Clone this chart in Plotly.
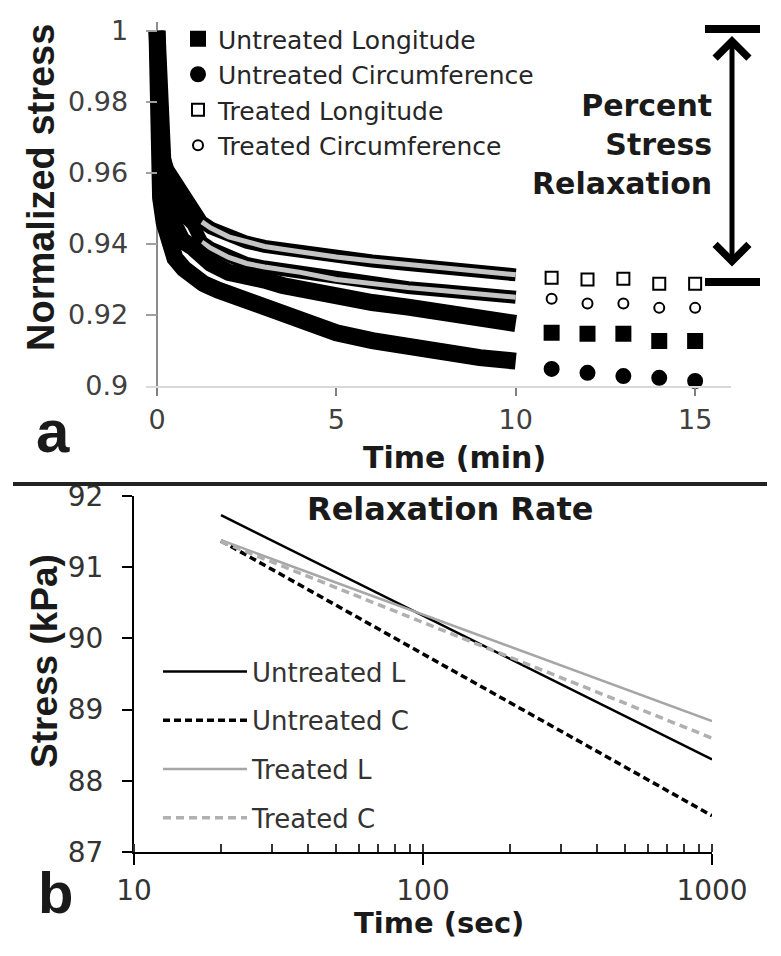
import plotly.graph_objects as go

# ---- panel a: normalized stress vs time (min) ----
# dense recording 0-10 min
t_ul = [0, 0.02, 0.05, 0.1, 0.2, 0.3, 0.45, 0.7, 1.0, 1.5, 2, 2.5, 3, 3.5, 4, 5, 6, 7, 8, 9, 10]
ul = [1.0, 0.99, 0.978, 0.965, 0.955, 0.949, 0.945, 0.941, 0.939, 0.9345, 0.932, 0.9312, 0.9298,
      0.9283, 0.9272, 0.9252, 0.9235, 0.9222, 0.9207, 0.9192, 0.9176]
t_uc = [0, 0.02, 0.05, 0.1, 0.2, 0.3, 0.5, 0.75, 1, 1.3, 1.7, 2.2, 2.6, 3, 3.5, 4, 5, 6, 7, 8, 9, 10]
uc = [1.0, 0.982, 0.965, 0.953, 0.946, 0.941, 0.936, 0.933, 0.931, 0.9288, 0.927, 0.925, 0.9235,
      0.922, 0.920, 0.918, 0.915, 0.9128, 0.9108, 0.9093, 0.908, 0.907]
t_tr = [0, 0.03, 0.07, 0.15, 0.3, 0.54, 0.75, 1.0, 1.25, 1.5, 2, 2.5, 3, 3.5, 4, 5, 6, 7, 8, 9, 10]
tl = [1.0, 0.99, 0.98, 0.966, 0.961, 0.957, 0.954, 0.951, 0.9462, 0.9445, 0.942, 0.9405,
      0.9393, 0.9385, 0.9377, 0.9363, 0.9352, 0.9342, 0.933, 0.932, 0.9313]
tc = [1.0, 0.988, 0.975, 0.962, 0.956, 0.951, 0.948, 0.9455, 0.9405, 0.9388, 0.9362, 0.9345,
      0.9335, 0.9328, 0.932, 0.930, 0.9288, 0.9277, 0.9268, 0.926, 0.925]

# sparse points after 10 min
t_late = [11, 12, 13, 14, 15]
ul_late = [0.915, 0.9147, 0.9147, 0.9127, 0.9127]
uc_late = [0.9048, 0.9037, 0.9028, 0.9023, 0.9014]
tl_late = [0.9305, 0.930, 0.9302, 0.9288, 0.9288]
tc_late = [0.9246, 0.9232, 0.9232, 0.922, 0.922]

# ---- panel b: log fits, stress (kPa) vs time (sec) ----
t_fit = [20, 1000]
fit_ul = [91.73, 88.30]
fit_uc = [91.37, 87.51]
fit_tl = [91.38, 88.84]
fit_tc = [91.36, 88.60]

W, H = 781, 956
OFF = 8  # page body margin
def px(x): return (x - OFF) / W
def py(y): return 1 - (y - OFF) / H

WIDE = "DejaVu Sans"
ARIAL = "Liberation Sans"
GRAY = "#a6a6a6"
INK = "#1a1a1a"

fig = go.Figure()

# open-marker bands go under the filled ones; where steep they read as solid black
first_flat = 8  # t >= 1.25, where open markers separate
for tt, vv in [(t_tr, tl), (t_tr, tc)]:
    fig.add_trace(go.Scatter(x=tt, y=vv, mode="lines", line=dict(color="black", width=13),
                             showlegend=False, hoverinfo="skip"))
    fig.add_trace(go.Scatter(x=tt[first_flat:], y=vv[first_flat:], mode="lines",
                             line=dict(color="#c4c4c4", width=5), showlegend=False, hoverinfo="skip"))
for tt, vv in [(t_ul, ul), (t_uc, uc)]:
    fig.add_trace(go.Scatter(x=tt, y=vv, mode="lines", line=dict(color="black", width=17),
                             showlegend=False, hoverinfo="skip"))

late = [
    ("Untreated Longitude", ul_late, "square", 14),
    ("Untreated Circumference", uc_late, "circle", 14),
    ("Treated Longitude", tl_late, "square-open", 12),
    ("Treated Circumference", tc_late, "circle-open", 10),
]
for name, vv, sym, sz in late:
    fig.add_trace(go.Scatter(x=t_late, y=vv, mode="markers", name=name, cliponaxis=False,
                             marker=dict(symbol=sym, size=sz, color="black",
                                         line=dict(color="black", width=2))))

fits = [
    ("Untreated L", fit_ul, "black", "solid", 2.5),
    ("Untreated C", fit_uc, "black", "7px,4px", 3.5),
    ("Treated L", fit_tl, GRAY, "solid", 2.5),
    ("Treated C", fit_tc, "#b0b0b0", "8px,5px", 3.5),
]
for name, vv, col, dash, w in fits:
    fig.add_trace(go.Scatter(x=t_fit, y=vv, mode="lines", name=name, xaxis="x2", yaxis="y2",
                             legend="legend2", legendgroup=name,
                             line=dict(color=col, dash=dash, width=w)))

# top panel: x runs a little below 0 so the band at t=0 is not cut; the y axis line is the x zeroline
X0, X1 = -0.3, 16
fig.update_layout(
    width=W, height=H,
    margin=dict(l=0, r=0, t=0, b=0),
    paper_bgcolor="white", plot_bgcolor="white",
    font=dict(family=WIDE, color="#262626"),
    xaxis=dict(domain=[px(157 + X0 * 35.875), px(731)], range=[X0, X1], anchor="y", automargin=False,
               tickvals=[0, 5, 10, 15], showgrid=False,
               zeroline=True, zerolinecolor="#8c8c8c", zerolinewidth=1.5,
               showline=True, linecolor="#d9d9d9", linewidth=1.5,
               ticks="outside", ticklen=8, tickcolor="#808080", tickwidth=1.5,
               ticklabelstandoff=1,
               tickfont=dict(family=WIDE, size=27, color="#404040")),
    yaxis=dict(domain=[py(386), py(22)], range=[0.9, 1.0025], anchor="x", automargin=False,
               tickvals=[0.9, 0.92, 0.94, 0.96, 0.98, 1], ticktext=["0.9", "0.92", "0.94", "0.96", "0.98", "1"],
               showgrid=False, zeroline=False, showline=False,
               ticks="inside", ticklen=11, tickcolor="#a0a0a0", tickwidth=1.5,
               ticklabelstandoff=17,
               tickfont=dict(family=WIDE, size=27, color="#404040")),
    xaxis2=dict(domain=[px(134), px(712)], type="log", range=[1, 3], anchor="y2", automargin=False,
                tickvals=[10, 100, 1000], ticktext=["10", "100", "1000"],
                showgrid=False, zeroline=False,
                showline=True, linecolor="black", linewidth=2,
                ticks="outside", ticklen=11, tickcolor="black", tickwidth=2,
                minor=dict(ticks="inside", ticklen=8, tickcolor="#333333", tickwidth=1.5,
                           dtick="D1", showgrid=False),
                ticklabelstandoff=1,
                tickfont=dict(family=WIDE, size=28, color="#333333")),
    yaxis2=dict(domain=[py(852), py(496)], range=[87, 92], anchor="x2", automargin=False,
                dtick=1, showgrid=False, zeroline=False,
                showline=True, linecolor="black", linewidth=2,
                ticks="outside", ticklen=10, tickcolor="black", tickwidth=2,
                ticklabelstandoff=13,
                tickfont=dict(family=WIDE, size=28, color="#333333")),
    legend=dict(x=px(178), y=py(16), xanchor="left", yanchor="top",
                bgcolor="rgba(0,0,0,0)", borderwidth=0,
                font=dict(family=WIDE, size=25, color="#262626")),
    legend2=dict(x=px(158), y=py(648), xanchor="left", yanchor="top",
                 bgcolor="rgba(0,0,0,0)", borderwidth=0, itemwidth=84, tracegroupgap=12,
                 font=dict(family=WIDE, size=26, color="#333333")),
    showlegend=True,
)

def label(text, x, y, family, size, angle=0):
    fig.add_annotation(xref="paper", yref="paper", x=px(x), y=py(y), text=text, showarrow=False,
                       xanchor="center", yanchor="middle", textangle=angle,
                       font=dict(family=family, size=size, color=INK, weight="bold"))

# axis titles
label("Time (min)", 454, 457, WIDE, 30)
label("Normalized stress", 41, 188, ARIAL, 38, -90)
label("Time (sec)", 439, 923, WIDE, 29)
label("Stress (kPa)", 44, 661, ARIAL, 37, -90)

# stress relaxation bracket
for yb in [29, 282]:
    fig.add_shape(type="line", xref="paper", yref="paper", x0=px(705), x1=px(760), y0=py(yb), y1=py(yb),
                  line=dict(color="black", width=8))
fig.add_annotation(xref="paper", yref="paper", x=px(732), y=py(36), ax=0, ay=232, text="",
                   showarrow=True, arrowside="end+start", arrowhead=4, startarrowhead=4,
                   arrowsize=1.3, startarrowsize=1.3, arrowwidth=5, arrowcolor="black")
fig.add_annotation(xref="paper", yref="paper", x=px(714), y=py(144), xanchor="right", yanchor="middle",
                   text="Percent<br>Stress<br>Relaxation", showarrow=False, align="right",
                   font=dict(family=WIDE, size=30, color=INK, weight="bold"))

# panel letters, panel b heading, divider
label("a", 53, 432, ARIAL, 60)
label("b", 55, 892, ARIAL, 58)
label("Relaxation Rate", 450, 509, WIDE, 32)
fig.add_shape(type="line", xref="paper", yref="paper", x0=px(13), x1=px(767), y0=py(484), y1=py(484),
              line=dict(color="#222222", width=4))

fig.write_html("out.html")
